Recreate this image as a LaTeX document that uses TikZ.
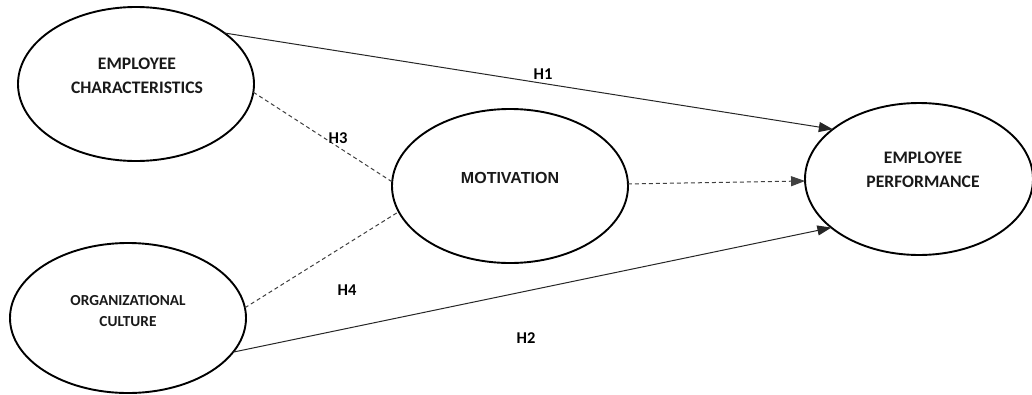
\documentclass[tikz,border=0pt]{standalone}
\usepackage{fontspec}
\setmainfont{Carlito}
\newfontfamily\arialfont{Liberation Sans}
\usetikzlibrary{shapes.geometric,arrows.meta}
\tikzset{
  oval/.style={draw=black, line width=1.9pt, ellipse, inner sep=0pt, outer sep=0pt},
  lbl/.style={align=center, inner sep=0pt, text=black!90, font=\bfseries\fontsize{17.6}{24}\selectfont},
  hyp/.style={inner sep=0pt, text=black, font=\bfseries\fontsize{16.5}{19}\selectfont},
  solidc/.style={draw=black!85, line width=1pt},
  dashc/.style={draw=black!75, line width=1pt, dash pattern=on 4pt off 3pt},
  tip/.style={-{Triangle[length=14pt,width=10pt]}}
}
\begin{document}
\begin{tikzpicture}[x=1pt,y=-1pt]
\useasboundingbox (0,0) rectangle (1032,394);
% ellipses
\node[oval, minimum width=236pt, minimum height=154pt] (ec) at (136,84) {};
\node[oval, minimum width=236pt, minimum height=150pt] (oc) at (128,318) {};
\node[oval, minimum width=236pt, minimum height=154pt] (mo) at (510,186) {};
\node[oval, minimum width=228pt, minimum height=152pt] (ep) at (919,179) {};
% texts
\node[lbl] (ect) at (137,76) {EMPLOYEE\\CHARACTERISTICS};
\node[lbl, font=\bfseries\fontsize{15.3}{21}\selectfont] (oct) at (128,311) {ORGANIZATIONAL\\CULTURE};
\node[lbl, font=\arialfont\bfseries\fontsize{16}{19}\selectfont] (mot) at (510,178) {MOTIVATION};
\node[lbl] (ept) at (923,170) {EMPLOYEE\\PERFORMANCE};
% connectors
\draw[solidc, tip] (ec.30) -- (ep.150);
\draw[dashc] (ec.-4) -- (mo.178);
\draw[dashc] (oc.5) -- (mo.193.5);
\draw[dashc, tip] (mo.1.7) -- (ep.181.8);
\draw[solidc, tip] (oc.-18) -- (ep.209);
% labels
\node[hyp] (h1) at (543,74) {H1};
\node[hyp] (h3) at (338,138) {H3};
\node[hyp] (h4) at (347,290) {H4};
\node[hyp] (h2) at (526,338) {H2};
\end{tikzpicture}
\end{document}
